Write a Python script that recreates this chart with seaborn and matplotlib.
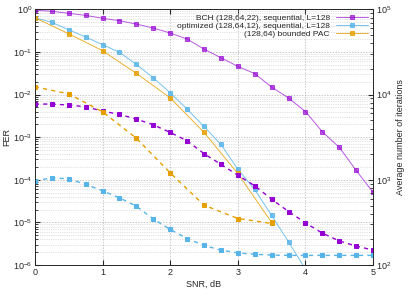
import numpy as np
import seaborn as sns
import matplotlib
matplotlib.use('Agg')
import matplotlib.pyplot as plt
from matplotlib.ticker import LogLocator, NullFormatter

sns.set_style('ticks')
plt.rcParams['font.family'] = ['Liberation Sans', 'DejaVu Sans']
plt.rcParams['mathtext.fontset'] = 'custom'
plt.rcParams['mathtext.rm'] = 'Liberation Sans'

# FER curves (left axis)
snr_q = [0, 0.25, 0.5, 0.75, 1, 1.25, 1.5, 1.75, 2, 2.25, 2.5, 2.75, 3, 3.25, 3.5, 3.75, 4, 4.25, 4.5, 4.75, 5]
fer_bch = [0.95, 0.90, 0.805, 0.72, 0.615, 0.54, 0.45, 0.364, 0.278, 0.20, 0.117, 0.073, 0.046, 0.031,
           0.015, 0.0083, 0.0040, 0.00134, 5.8e-4, 1.66e-4, 5.1e-5]
snr_opt = [0, 0.25, 0.5, 0.75, 1, 1.25, 1.5, 1.75, 2, 2.25, 2.5, 2.75, 3, 3.25, 3.5, 3.75, 4]
fer_opt = [0.635, 0.495, 0.332, 0.224, 0.148, 0.098, 0.051, 0.0248, 0.0110, 0.00457, 0.00179, 6.8e-4,
           1.78e-4, 5.95e-5, 1.46e-5, 3.5e-6, 8e-7]
snr_pac = [0, 0.5, 1, 1.5, 2, 2.5, 3, 3.5]
fer_pac = [0.635, 0.267, 0.107, 0.0315, 0.0084, 0.0013, 1.41e-4, 1.0e-5]

# average number of iterations (right axis)
it_bch = [7740, 7740, 7540, 7190, 6400, 5860, 5160, 4420, 3600, 2870, 2030, 1520, 1135, 851, 593, 425,
          313, 237, 192, 167, 150]
it_opt = [973, 1055, 1027, 884, 743, 615, 491, 348, 262, 205, 170, 150, 139, 134, 131, 130, 130, 130,
          130, 130, 130]
it_pac = [12350, 10200, 6280, 3080, 1210, 505, 352, 308]

labels = ['BCH (128,64,22), sequential, L=128',
          'optimized (128,64,12), sequential, L=128',
          '(128,64) bounded PAC']
c_bch = '#9400d3'
c_opt = '#56b4e9'
c_pac = '#e69f00'

fig = plt.figure(figsize=(4.15, 2.91), dpi=100)
ax = fig.add_axes([0.084, 0.089, 0.815, 0.879])
ax2 = ax.twinx()

fs = 6.5
sns.lineplot(x=snr_q, y=fer_bch, ax=ax, color=c_bch, lw=0.7, marker='s', ms=2.2, mec=c_bch, label=labels[0], alpha=0.65)
sns.lineplot(x=snr_opt, y=fer_opt, ax=ax, color=c_opt, lw=0.7, marker='s', ms=2.2, mec=c_opt, label=labels[1], alpha=0.8)
sns.lineplot(x=snr_pac, y=fer_pac, ax=ax, color=c_pac, lw=0.7, marker='s', ms=2.2, mec=c_pac, label=labels[2], alpha=0.8)

sns.lineplot(x=snr_q, y=it_bch, ax=ax2, color=c_bch, lw=1.0, ls=(0, (3, 3)), marker='s', ms=3, mec=c_bch)
sns.lineplot(x=snr_q, y=it_opt, ax=ax2, color=c_opt, lw=1.0, ls=(0, (3, 3)), marker='s', ms=3, mec=c_opt)
sns.lineplot(x=snr_pac, y=it_pac, ax=ax2, color=c_pac, lw=1.0, ls=(0, (3, 3)), marker='s', ms=3, mec=c_pac)

ax.set_yscale('log')
ax2.set_yscale('log')
ax.set_xlim(0, 5)
ax.set_ylim(1e-6, 1)
ax2.set_ylim(1e2, 1e5)
ax.set_xticks([0, 1, 2, 3, 4, 5])
ax.yaxis.set_major_locator(LogLocator(base=10, numticks=10))
ax.yaxis.set_minor_locator(LogLocator(base=10, subs=np.arange(2, 10), numticks=10))
ax.yaxis.set_minor_formatter(NullFormatter())
ax2.yaxis.set_minor_locator(LogLocator(base=10, subs=np.arange(2, 10), numticks=10))
ax2.yaxis.set_minor_formatter(NullFormatter())

ax.grid(True, which='major', color='#b0b0b0', ls=(0, (2, 2)), lw=0.5)
ax.grid(True, which='minor', axis='y', color='#c8c8c8', ls=(0, (2, 2)), lw=0.4)

for a in (ax, ax2):
    a.tick_params(which='both', direction='in', labelsize=fs, top=True, pad=2)
    a.tick_params(which='major', length=3.5)
    a.tick_params(which='minor', length=2)
    for s in a.spines.values():
        s.set_linewidth(0.6)
ax.tick_params(right=False, which='both')

ax.set_xlabel('SNR, dB', fontsize=fs, labelpad=2)
ax.set_ylabel('FER', fontsize=fs, labelpad=1)
ax2.set_ylabel('Average number of iterations', fontsize=fs, labelpad=3)

handles, labs = ax.get_legend_handles_labels()
ax.get_legend().remove()
ax2.legend(handles, labs, loc='upper right', frameon=False, markerfirst=False, fontsize=6,
           handlelength=3.8, borderaxespad=0.2, labelspacing=0.0, handletextpad=0.8)

fig.savefig('out.png', dpi=100)
